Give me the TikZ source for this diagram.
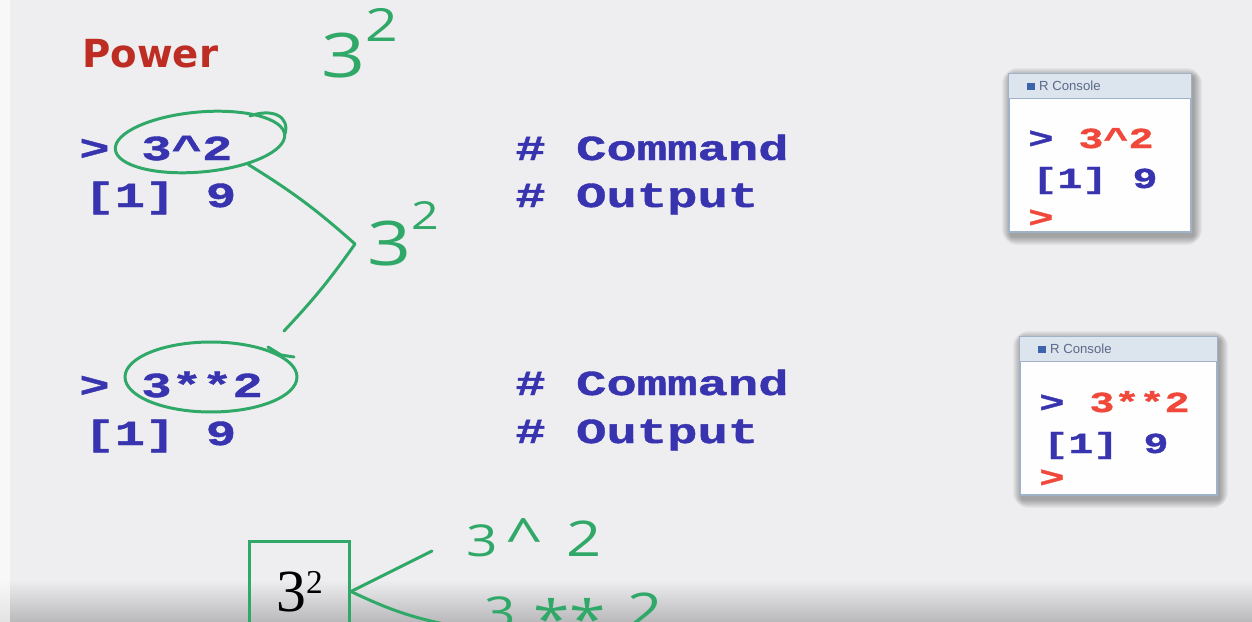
\documentclass[tikz,border=0pt]{standalone}
\usepackage{fontspec}
\setmainfont{Liberation Sans}
\newfontfamily\codefont[FakeStretch=1.44, BoldFeatures={FakeBold=1.2}]{Liberation Mono}
\newfontfamily\titlefont{DejaVu Sans}
\newfontfamily\handfont[FakeStretch=1.25]{Open Sans}
\newfontfamily\numfont{Liberation Serif}
\usetikzlibrary{positioning, shapes.geometric, calc, fit}

\definecolor{slidebg}{RGB}{238,238,240}
\definecolor{slidebot}{RGB}{185,185,188}
\definecolor{codeblue}{RGB}{56,52,176}
\definecolor{powred}{RGB}{190,45,35}
\definecolor{penred}{RGB}{240,72,58}
\definecolor{pengreen}{RGB}{48,168,104}
\definecolor{winframe}{RGB}{160,178,200}
\definecolor{winbar}{RGB}{220,228,238}
\definecolor{bartext}{RGB}{90,105,135}
\definecolor{iconblue}{RGB}{60,100,170}

\tikzset{
  code/.style={font=\codefont\bfseries\fontsize{20}{24}\selectfont, text=codeblue, inner sep=0pt, anchor=base west},
  concode/.style={font=\codefont\bfseries\fontsize{16.5}{20}\selectfont, text=codeblue, inner sep=0pt, anchor=base west},
  pen/.style={draw=pengreen, line width=1.7pt, line cap=round, line join=round},
  ring/.style={ellipse, pen, inner sep=0pt},
  hand/.style={font=\handfont\fontsize{35}{35}\selectfont, text=pengreen, inner sep=0pt, anchor=base west},
  window/.style={draw=winframe, fill=white!96!slidebg, line width=0.8pt, inner sep=0pt},
  bar/.style={font=\fontsize{7.5}{8}\selectfont, text=bartext, inner sep=0pt, anchor=west},
}

\begin{document}
\begin{tikzpicture}[x=0.02cm, y=-0.02cm]
  % slide background
  \useasboundingbox (0,0) rectangle (1252,622);
  \fill[slidebg] (0,0) rectangle (1252,622);
  \shade[top color=slidebg, bottom color=slidebot] (0,580) rectangle (1252,622);
  \fill[white, opacity=0.6] (0,0) rectangle (10,622);

  % title
  \node[font=\titlefont\bfseries\fontsize{22}{22}\selectfont, text=powred, anchor=base west, inner sep=0pt] (title) at (82,68) {Power};
  \node[hand] (powTop) at (321,77) {3\raisebox{20pt}{\fontsize{26}{26}\selectfont 2}};

  % first command
  \node[code] (promptA) at (79,160) {>};
  \node[code] (cmdA) at (141,160) {3\textasciicircum 2};
  \node[code] (resA) at (84,207) {[1] 9};
  \node[code] (noteA) at (515,160) {\# Command};
  \node[code] (outA) at (515,207) {\# Output};

  % second command
  \node[code] (promptB) at (79,397) {>};
  \node[code] (cmdB) at (141,397) {3**2};
  \node[code] (resB) at (84,445) {[1] 9};
  \node[code] (noteB) at (515,395) {\# Command};
  \node[code] (outB) at (515,443) {\# Output};

  % pen rings and bracket
  \node[ring, minimum width=3.4cm, minimum height=1.2cm, rotate=5] (ringA) at (200,142) {};
  \draw[pen] (250,116) .. controls (272,108) and (290,116) .. (285,134);
  \node[ring, minimum width=3.44cm, minimum height=1.4cm] (ringB) at (211,377) {};
  \draw[pen] (268,347) -- (281,355) -- (294,357);
  \coordinate (tip) at (355,244);
  \coordinate (gapB) at (284,331);
  \draw[pen] (ringA.-30) to[bend left=5] (tip) to[bend left=4] (gapB);
  \node[hand] (powMid) at (367,265) {3\raisebox{20pt}{\fontsize{22}{22}\selectfont 2}};

  % console windows
  \coordinate (A-nw) at (1009,74);
  \coordinate (A-se) at (1191,232);
  \coordinate (B-nw) at (1020,337);
  \coordinate (B-se) at (1217,495);
  \foreach \w in {A,B}
    \foreach \k in {1,...,9}
      \fill[black, opacity=0.04, rounded corners=\k pt]
        ($(\w-nw)+(-\k+2,-\k+3)$) rectangle ($(\w-se)+(\k+2,\k+4)$);
  \node[window, fit=(A-nw)(A-se)] (winA) {};
  \node[window, fit=(B-nw)(B-se)] (winB) {};
  \foreach \w in {A,B} {
    \fill[winbar] (win\w.north west) rectangle ($(win\w.north east)+(0,25)$);
    \draw[winframe, line width=0.5pt] ($(win\w.north west)+(0,25)$) -- ($(win\w.north east)+(0,25)$);
    \draw[winframe, line width=0.8pt] (win\w.north west) rectangle (win\w.south east);
  }
  \node[bar] (barA) at ($(winA.north west)+(18,12)$) {\textcolor{iconblue}{\rule{5pt}{4pt}}\ R Console};
  \node[bar] (barB) at ($(winB.north west)+(18,12)$) {\textcolor{iconblue}{\rule{5pt}{4pt}}\ R Console};

  \node[concode] (inA) at (1028,148) {> \textcolor{penred}{3\textasciicircum 2}};
  \node[concode] (echoA) at (1032,188) {[1] 9};
  \node[concode, text=penred] (nextA) at (1028,227) {>};
  \node[concode] (inB) at (1039,412) {> \textcolor{penred}{3**2}};
  \node[concode] (echoB) at (1043,453) {[1] 9};
  \node[concode, text=penred] (nextB) at (1039,487) {>};

  % boxed power and its two forms
  \node[draw=pengreen, line width=1.7pt, minimum width=2cm, minimum height=2cm, anchor=north west, inner sep=0pt,
        font=\numfont\fontsize{34}{34}\selectfont] (sqbox) at (248,540) {3\raisebox{10pt}{\fontsize{19}{19}\selectfont 2}};
  \coordinate (hatend) at (432,551);
  \coordinate (starend) at (466,628);
  \draw[pen] (sqbox.east) -- (hatend);
  \draw[pen] (sqbox.east) to[bend right=8] (starend);
  \node[hand, font=\handfont\fontsize{25}{25}\selectfont] (hatform) at (466,556)
    {3\hspace{5pt}{\fontsize{30}{30}\selectfont\textasciicircum}\hspace{14pt}{\fontsize{28}{28}\selectfont 2}};
  \node[hand, font=\handfont\fontsize{25}{25}\selectfont] (starform) at (484,628)
    {3\hspace{10pt}\raisebox{-6pt}{{\fontsize{30}{30}\selectfont **}}\hspace{12pt}{\fontsize{28}{28}\selectfont 2}};
\end{tikzpicture}
\end{document}
